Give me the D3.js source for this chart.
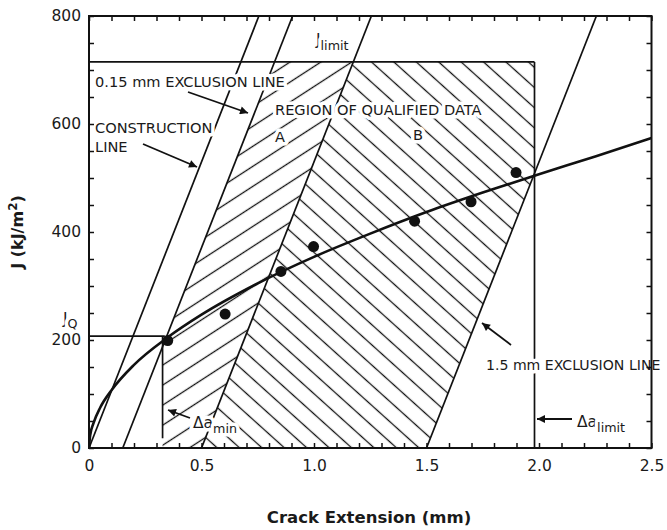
<!DOCTYPE html>
<html><head><meta charset="utf-8">
<script src="https://cdn.jsdelivr.net/npm/d3@7"></script>
<style>
body{margin:0;background:#fff;}
text{font-family:"DejaVu Sans",Verdana,sans-serif;fill:#1a1a1a;}
</style></head><body>
<svg id="c" width="667" height="530"></svg>
<script>
// ---- data ----
const xTickValues = [0, 0.5, 1.0, 1.5, 2.0, 2.5];
const xTickLabels = ["0", "0.5", "1.0", "1.5", "2.0", "2.5"];
const yTickValues = [0, 200, 400, 600, 800];
const yTickLabels = ["0", "200", "400", "600", "800"];
const xMinorTicks = d3.range(0, 26).map(i => i / 10);
const yMinorTicks = d3.range(0, 17).map(i => i * 50);

const crackExt = [0.35, 0.605, 0.853, 0.998, 1.447, 1.698, 1.898];
const jValues  = [199, 248, 327, 373, 420, 456, 510];

// fitted power-law curve
const fitDa = [0, 0.005, 0.02, 0.05, 0.1, 0.2, 0.35, 0.5, 0.75, 1.0, 1.25, 1.5, 1.75, 2.0, 2.25, 2.5];
const fitJ  = [0, 23, 46, 75, 107, 154, 205, 247, 305, 354, 397, 437, 473, 507, 540, 574];

// straight construction / exclusion lines  [[da0,J0],[da1,J1]]
const constructionLine = [[0, 0], [0.755, 800]];
const exclusion015     = [[0.15, 0], [0.905, 800]];
const exclusion05      = [[0.5, 0], [1.255, 800]];
const exclusion15      = [[1.5, 0], [2.255, 800]];
const jLimit = 715, jQ = 207, daMin = 0.327, daLimit = 1.98, daMinBottom = 18;

// qualified-data regions
const regionA = [[0.327, 0], [0.327, 187], [0.8245, 715], [1.1745, 715], [0.5, 0]];
const regionB = [[0.5, 0], [1.1745, 715], [1.98, 715], [1.98, 509], [1.5, 0]];

// ---- layout ----
const svg = d3.select("#c");
const L = 89, R = 651.5, T = 16, B = 448;
const x = d3.scaleLinear().domain([0, 2.5]).range([L, R]);
const y = d3.scaleLinear().domain([0, 800]).range([B, T]);
const ink = "#111";

const defs = svg.append("defs");
defs.append("clipPath").attr("id", "plot").append("rect")
  .attr("x", L).attr("y", T).attr("width", R - L).attr("height", B - T);

function hatch(id, angle, sp) {
  const p = defs.append("pattern").attr("id", id)
    .attr("patternUnits", "userSpaceOnUse").attr("width", sp).attr("height", sp)
    .attr("patternTransform", `rotate(${angle})`);
  p.append("line").attr("x1", -1).attr("x2", sp + 1).attr("y1", sp / 2).attr("y2", sp / 2)
    .attr("stroke", ink).attr("stroke-width", 1.3);
}
hatch("hA", -33, 16.8);
hatch("hB", 42, 15);

defs.append("marker").attr("id", "arr").attr("viewBox", "0 0 10 10")
  .attr("refX", 10).attr("refY", 5).attr("markerWidth", 12).attr("markerHeight", 8)
  .attr("markerUnits", "userSpaceOnUse").attr("orient", "auto")
  .append("path").attr("d", "M0,0 L10,5 L0,10 z").attr("fill", ink);

const g = svg.append("g").attr("clip-path", "url(#plot)");
const poly = d3.line().x(d => x(d[0])).y(d => y(d[1]));

g.append("path").attr("d", poly(regionA) + "Z").attr("fill", "url(#hA)");
g.append("path").attr("d", poly(regionB) + "Z").attr("fill", "url(#hB)");

const straight = [constructionLine, exclusion015, exclusion05, exclusion15,
  [[0, jLimit], [daLimit, jLimit]], [[daLimit, jLimit], [daLimit, 0]],
  [[0, jQ], [daMin + 0.01, jQ]], [[daMin, jQ], [daMin, daMinBottom]]];
straight.forEach(s => g.append("path").attr("d", poly(s)).attr("fill", "none")
  .attr("stroke", ink).attr("stroke-width", 1.7));

const curve = d3.line().x((d, i) => x(fitDa[i])).y((d, i) => y(fitJ[i])).curve(d3.curveMonotoneX);
g.append("path").attr("d", curve(fitDa)).attr("fill", "none")
  .attr("stroke", ink).attr("stroke-width", 2.6);

g.selectAll("circle.pt").data(crackExt).enter().append("circle")
  .attr("cx", d => x(d)).attr("cy", (d, i) => y(jValues[i])).attr("r", 5.5).attr("fill", ink);

// ---- annotations (white halo breaks lines like the reference) ----
function label(tx, ty, main, sub, size, subDy) {
  const fs = size || 14.6;
  const t = svg.append("text").attr("x", tx).attr("y", ty).attr("font-size", fs)
    .attr("stroke", "#fff").attr("stroke-width", 7).attr("paint-order", "stroke")
    .attr("stroke-linejoin", "round");
  t.append("tspan").text(main);
  if (sub) t.append("tspan").attr("dy", subDy || 5).attr("font-size", fs * 0.82).text(sub);
  return t;
}
label(95, 87, "0.15 mm EXCLUSION LINE");
label(95, 133, "CONSTRUCTION");
label(95, 152, "LINE");
label(275, 115, "REGION OF QUALIFIED DATA");
label(275, 142, "A");
label(413, 140, "B");
label(486, 370, "1.5 mm EXCLUSION LINE", null, 14.1);
label(316, 45, "J", "limit", 15.5);
label(63, 324, "J", "Q", 15.5, 4);
label(193, 428, "Δa", "min", 15.5);
label(577, 427, "Δa", "limit", 15.5);

const arrows = [[[188, 92], [248, 113]], [[143, 144], [197, 167]],
  [[511, 345], [482, 323]], [[190, 418], [168, 410]], [[572, 419], [537, 419]]];
arrows.forEach(a => svg.append("line").attr("x1", a[0][0]).attr("y1", a[0][1])
  .attr("x2", a[1][0]).attr("y2", a[1][1]).attr("stroke", ink).attr("stroke-width", 1.8)
  .attr("marker-end", "url(#arr)"));

// ---- axes ----
function styleAxis(sel) {
  sel.select(".domain").remove();
  sel.selectAll("line").attr("stroke", ink).attr("stroke-width", 1.5);
  sel.selectAll("text").attr("font-size", 15.5).attr("fill", "#1a1a1a")
    .attr("font-family", "'DejaVu Sans',Verdana,sans-serif");
}
svg.append("g").attr("transform", `translate(0,${B})`)
  .call(d3.axisBottom(x).tickValues(xMinorTicks).tickSize(-5).tickFormat("")).call(styleAxis);
svg.append("g").attr("transform", `translate(0,${T})`)
  .call(d3.axisTop(x).tickValues(xMinorTicks).tickSize(-5).tickFormat("")).call(styleAxis);
svg.append("g").attr("transform", `translate(${L},0)`)
  .call(d3.axisLeft(y).tickValues(yMinorTicks).tickSize(-5).tickFormat("")).call(styleAxis);
svg.append("g").attr("transform", `translate(${R},0)`)
  .call(d3.axisRight(y).tickValues(yMinorTicks).tickSize(-5).tickFormat("")).call(styleAxis);
svg.append("g").attr("transform", `translate(0,${B})`)
  .call(d3.axisBottom(x).tickValues(xTickValues).tickSize(0).tickPadding(12)
    .tickFormat((d, i) => xTickLabels[i])).call(styleAxis);
svg.append("g").attr("transform", `translate(${L},0)`)
  .call(d3.axisLeft(y).tickValues(yTickValues).tickSize(0).tickPadding(8)
    .tickFormat((d, i) => yTickLabels[i])).call(styleAxis);

svg.append("rect").attr("x", L).attr("y", T).attr("width", R - L).attr("height", B - T)
  .attr("fill", "none").attr("stroke", ink).attr("stroke-width", 2);

svg.append("text").attr("x", 369).attr("y", 523).attr("text-anchor", "middle")
  .attr("font-size", 16.5).attr("font-weight", "bold").text("Crack Extension (mm)");
const yl = svg.append("text").attr("transform", "translate(23,232) rotate(-90)")
  .attr("text-anchor", "middle").attr("font-size", 16).attr("font-weight", "bold");
yl.append("tspan").text("J (kJ/m");
yl.append("tspan").attr("dy", -6).attr("font-size", 12).text("2");
yl.append("tspan").attr("dy", 6).text(")");
</script>
</body></html>
